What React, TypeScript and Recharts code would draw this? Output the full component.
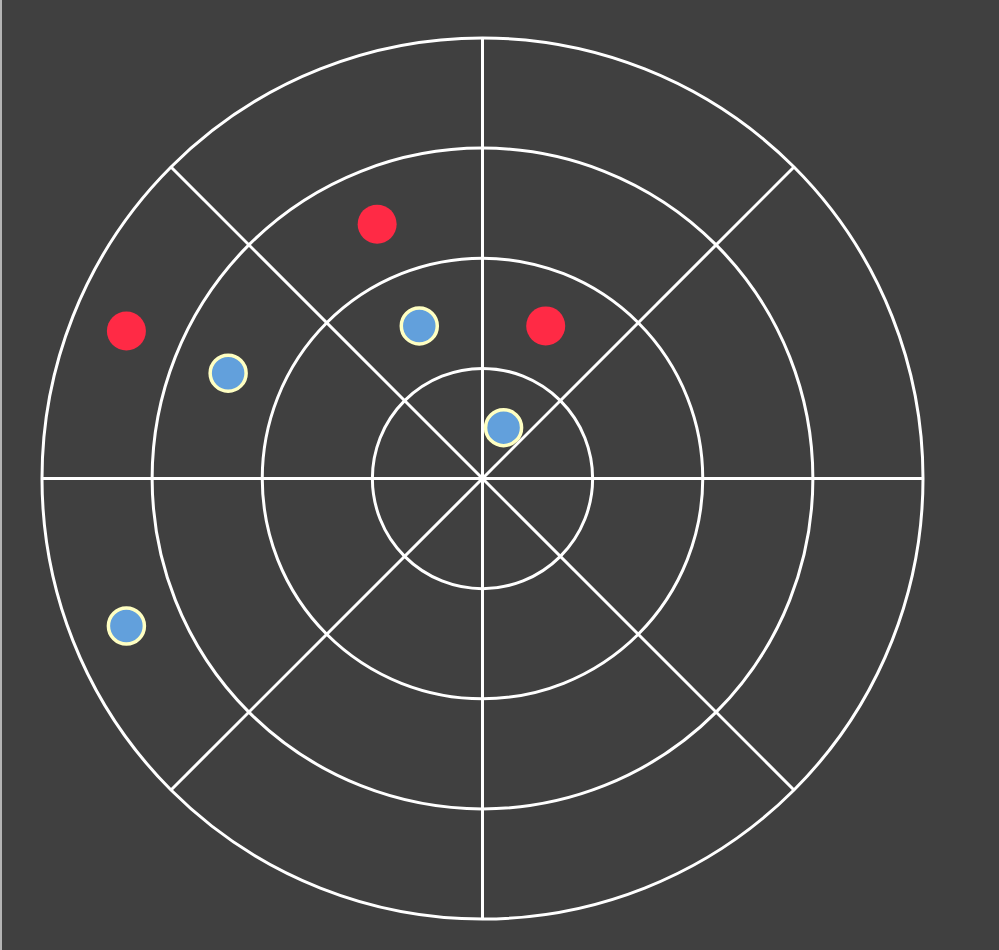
import { RadarChart, Radar, PolarGrid, PolarAngleAxis, PolarRadiusAxis } from 'recharts';

// 8 angular sectors, bearing measured clockwise from top
const sectors = [0, 1, 2, 3, 4, 5, 6, 7];
const redValues = [1.5, null, null, null, null, null, 3.5, 2.5];
const blueValues = [0.5, null, null, null, null, 3.5, 2.5, 1.5];
const radiusTicks = [0, 1, 2, 3, 4];

const sectorWidth = 360 / sectors.length;
const angleTicks = sectors.map((s) => s * sectorWidth);

const data = sectors.map((s, i) => ({
  bearing: s * sectorWidth + sectorWidth / 2,
  red: redValues[i],
  blue: blueValues[i],
}));

const makeDot = (fill: string, stroke: string, strokeWidth: number, r: number) => (props: any) => {
  const { cx, cy, value, index } = props;
  if (value == null || !Number.isFinite(cx) || !Number.isFinite(cy)) return <g key={`d-${fill}-${index}`} />;
  return (
    <circle
      key={`d-${fill}-${index}`}
      cx={cx}
      cy={cy}
      r={r}
      fill={fill}
      stroke={stroke}
      strokeWidth={strokeWidth}
    />
  );
};

export default function App() {
  return (
    <div
      style={{
        position: 'absolute',
        left: 0,
        top: 0,
        width: 999,
        height: 950,
        background: '#404040',
        borderLeft: '2px solid #b4b4b4',
        boxSizing: 'border-box',
      }}
    >
      <style>{`
        .recharts-polar-grid line,
        .recharts-polar-grid path,
        .recharts-polar-grid circle { stroke: #ffffff; stroke-width: 3px; }
      `}</style>
      <RadarChart
        width={997}
        height={950}
        data={data}
        cx={480.5}
        cy={478.5}
        outerRadius={440.5}
        margin={{ top: 0, right: 0, bottom: 0, left: 0 }}
      >
        <PolarGrid gridType="circle" stroke="#ffffff" strokeWidth={3} strokeOpacity={1} />
        <PolarAngleAxis
          dataKey="bearing"
          type="number"
          domain={[0, 360]}
          ticks={angleTicks}
          tick={false}
          axisLine={false}
          tickLine={false}
        />
        <PolarRadiusAxis
          type="number"
          domain={[0, 4]}
          ticks={radiusTicks}
          tick={false}
          axisLine={false}
          tickLine={false}
        />
        <Radar
          dataKey="red"
          stroke="none"
          fill="none"
          fillOpacity={0}
          dot={makeDot('#ff2a45', 'none', 0, 19.5)}
          isAnimationActive={false}
        />
        <Radar
          dataKey="blue"
          stroke="none"
          fill="none"
          fillOpacity={0}
          dot={makeDot('#62a0dc', '#ffffc2', 3.5, 18)}
          isAnimationActive={false}
        />
      </RadarChart>
    </div>
  );
}
